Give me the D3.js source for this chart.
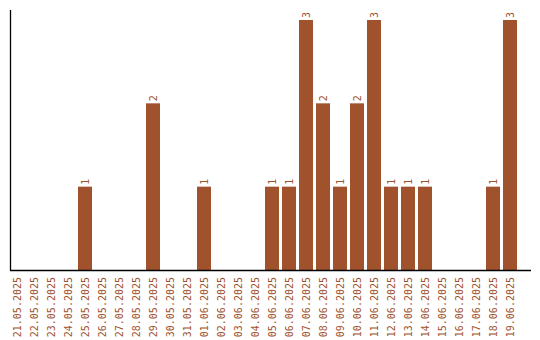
<!DOCTYPE html>
<html>
<head>
<meta charset="utf-8">
<script src="https://cdn.jsdelivr.net/npm/d3@7"></script>
<style>
  body { margin: 0; background: #fff; }
  text { font-family: "DejaVu Sans Mono", monospace; font-size: 10px; fill: #a0522d; }
</style>
</head>
<body>
<div id="chart"></div>
<script>
const dates = ["21.05.2025","22.05.2025","23.05.2025","24.05.2025","25.05.2025","26.05.2025",
  "27.05.2025","28.05.2025","29.05.2025","30.05.2025","31.05.2025","01.06.2025","02.06.2025",
  "03.06.2025","04.06.2025","05.06.2025","06.06.2025","07.06.2025","08.06.2025","09.06.2025",
  "10.06.2025","11.06.2025","12.06.2025","13.06.2025","14.06.2025","15.06.2025","16.06.2025",
  "17.06.2025","18.06.2025","19.06.2025"];
const counts = [0,0,0,0,1,0,0,0,2,0,0,1,0,0,0,1,1,3,2,1,2,3,1,1,1,0,0,0,1,3];

const width = 540, height = 340;
const plotLeft = 10, plotTop = 10, plotBottom = 270;

const svg = d3.select("#chart").append("svg")
    .attr("width", width)
    .attr("height", height);

// band scale: step 17, bar 14
const x = d3.scaleBand()
    .domain(dates)
    .range([plotLeft, plotLeft + 17 * 30 - 3])
    .paddingInner(3 / 17)
    .paddingOuter(0);

const y = d3.scaleLinear()
    .domain([0, 3])
    .range([plotBottom, 20]);

const data = dates.map((d, i) => ({ date: d, value: counts[i] }));

svg.selectAll("rect")
    .data(data.filter(d => d.value > 0))
    .enter().append("rect")
    .attr("x", d => x(d.date))
    .attr("y", d => y(d.value))
    .attr("width", x.bandwidth())
    .attr("height", d => y(0) - y(d.value))
    .attr("fill", "#a0522d");

// value labels
svg.selectAll(".val")
    .data(data.filter(d => d.value > 0))
    .enter().append("text")
    .attr("class", "val")
    .attr("transform", d => `translate(${x(d.date) + x.bandwidth() / 2 + 3.5},${y(d.value) - 2}) rotate(-90)`)
    .attr("text-anchor", "start")
    .text(d => d.value);

// date labels
svg.selectAll(".date")
    .data(data)
    .enter().append("text")
    .attr("class", "date")
    .attr("transform", d => `translate(${x(d.date) + x.bandwidth() / 2 + 3.5},${plotBottom + 7}) rotate(-90)`)
    .attr("text-anchor", "end")
    .text(d => d.date);

// axes lines
svg.append("line")
    .attr("x1", plotLeft + 0.5).attr("x2", plotLeft + 0.5)
    .attr("y1", plotTop).attr("y2", plotBottom + 0.5)
    .attr("stroke", "#000").attr("stroke-width", 1.3);

svg.append("line")
    .attr("x1", plotLeft).attr("x2", 531)
    .attr("y1", plotBottom + 0.5).attr("y2", plotBottom + 0.5)
    .attr("stroke", "#000").attr("stroke-width", 1.3);
</script>
</body>
</html>
